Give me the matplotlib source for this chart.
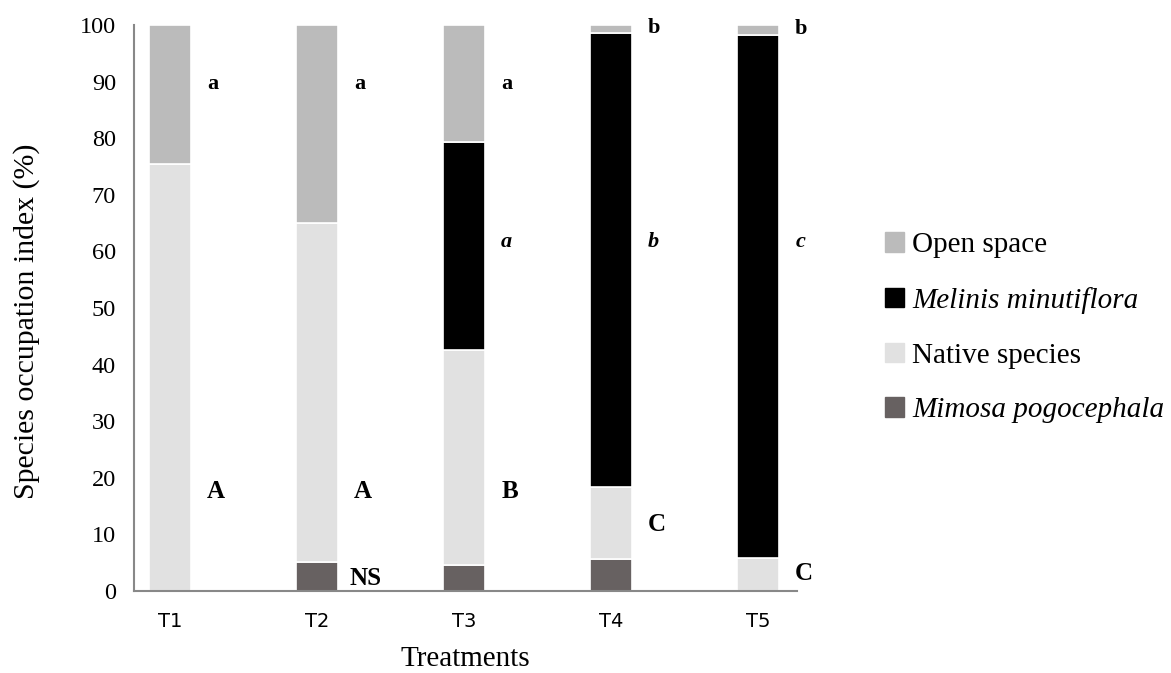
import numpy as np
import matplotlib.pyplot as plt
from matplotlib.patches import Patch

treatments = ["T1", "T2", "T3", "T4", "T5"]
# stacked segments, bottom to top (% occupation)
mimosa = [0.0, 5.1, 4.6, 5.6, 0.0]
native = [75.5, 59.9, 38.0, 12.8, 5.8]
melinis = [0.0, 0.0, 36.7, 80.1, 92.4]
open_space = [24.5, 35.0, 20.7, 1.5, 1.8]

# significance letters per segment and the height they sit at
letters_open = ["a", "a", "a", "b", "b"]
letters_open_y = [89.5, 89.5, 89.5, 99.5, 99.3]
letters_melinis = ["", "", "a", "b", "c"]
letters_melinis_y = [61.7, 61.7, 61.7, 61.7, 61.7]
letters_native = ["A", "A", "B", "C", "C"]
letters_native_y = [17.6, 17.6, 17.6, 11.8, 3.1]
letters_mimosa = ["", "NS", "", "", ""]
letters_mimosa_y = [2.3, 2.3, 2.3, 2.3, 2.3]

colors = {"open": "#bbbbbb", "melinis": "#000000",
          "native": "#e1e1e1", "mimosa": "#676161"}

plt.rcParams['font.family'] = ['Liberation Serif', 'DejaVu Serif']

fig = plt.figure(figsize=(11.71, 6.73), dpi=100)
ax = fig.add_axes([0.1144, 0.1218, 0.5662, 0.8411])

x = np.arange(len(treatments))
w = 0.28
bottom = np.zeros(len(x))
for vals, key in [(mimosa, "mimosa"), (native, "native"),
                  (melinis, "melinis"), (open_space, "open")]:
    ax.bar(x, vals, w, bottom=bottom, color=colors[key],
           edgecolor="white", linewidth=1.2)
    bottom += np.array(vals)

# letters to the right of the bars
dx = 0.29
for i in range(len(x)):
    ax.text(x[i] + dx, letters_open_y[i], letters_open[i], fontsize=16,
            fontweight="bold", ha="center", va="center")
    ax.text(x[i] + dx, letters_melinis_y[i], letters_melinis[i], fontsize=16,
            fontweight="bold", fontstyle="italic", ha="center", va="center")
    ax.text(x[i] + dx + 0.02, letters_native_y[i], letters_native[i], fontsize=18,
            fontweight="bold", ha="center", va="center")
    ax.text(x[i] + dx + 0.04, letters_mimosa_y[i], letters_mimosa[i], fontsize=18,
            fontweight="bold", ha="center", va="center")

ax.set_xlim(-0.245, 4.265)
ax.set_ylim(0, 100)
ax.set_yticks(np.arange(0, 101, 10))
ax.set_xticks(x)
ax.set_xticklabels(treatments, fontfamily="DejaVu Sans", fontsize=14)
ax.tick_params(axis="y", length=0, pad=13, labelsize=17.5)
ax.tick_params(axis="x", length=0, pad=15)

for s in ["top", "right"]:
    ax.spines[s].set_visible(False)
for s in ["left", "bottom"]:
    ax.spines[s].set_color("#888888")
    ax.spines[s].set_linewidth(1.5)

ax.set_xlabel("Treatments", fontsize=21, labelpad=11)
ax.set_ylabel("Species occupation index (%)", fontsize=21.5)
ax.yaxis.set_label_coords(-0.142, 0.477)

# legend
handles = [Patch(color=colors["open"]), Patch(color=colors["melinis"]),
           Patch(color=colors["native"]), Patch(color=colors["mimosa"])]
labels = ["Open space", "Melinis minutiflora", "Native species", "Mimosa pogocephala"]
leg = fig.legend(handles, labels, loc="center left", bbox_to_anchor=(0.733, 0.513),
                 frameon=False, fontsize=21, handlelength=0.65, handleheight=0.65,
                 handletextpad=0.3, labelspacing=0.98)
leg.get_texts()[1].set_fontstyle("italic")
leg.get_texts()[3].set_fontstyle("italic")

plt.savefig("out.png", dpi=100)
plt.close()
